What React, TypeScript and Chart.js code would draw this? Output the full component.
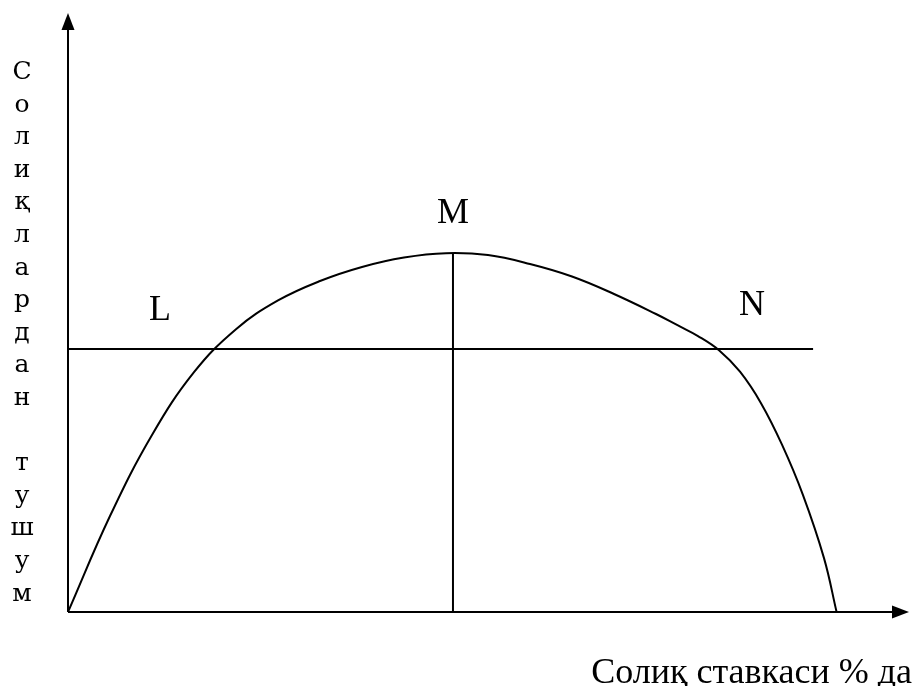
import React, { useEffect, useRef } from "react";
import { Chart, registerables } from "chart.js";

Chart.register(...registerables);

// Laffer curve: tax rate (x) vs tax revenue (y), in arbitrary units (0..100 of axis length)
const curveX = [0, 5, 10, 15, 20, 25, 30, 35, 40, 45, 50, 55, 60, 65, 70, 72.5, 75, 77.5, 80, 82.5, 85, 87.5, 90, 91.5];
const curveY = [0, 16.05, 29.6, 40.1, 47.3, 52.1, 55.35, 57.7, 59.28, 60.0, 59.68, 58.19, 56.1, 53.18, 49.83, 48.0, 46.15, 43.78, 40.18, 34.92, 27.98, 19.55, 9.01, 0];

const levelY = 44; // horizontal revenue level line (through L and N)
const levelXEnd = 88.7;
const peakX = 45.83; // point M
const peakY = 60;

const yAxisTitle = "Солиқлардан тушум";
const xAxisTitle = "Солиқ ставкаси % да";
const pointLabels = ["L", "M", "N"];

export default function App() {
  const ref = useRef<HTMLCanvasElement | null>(null);

  useEffect(() => {
    const canvas = ref.current;
    if (!canvas) return;

    const decor = {
      id: "decor",
      afterDatasetsDraw(chart: any) {
        const ctx = chart.ctx as CanvasRenderingContext2D;
        const xs = chart.scales.x;
        const ys = chart.scales.y;
        const ox = xs.getPixelForValue(0);
        const oy = ys.getPixelForValue(0);
        const area = chart.chartArea;
        ctx.save();
        ctx.strokeStyle = "#000";
        ctx.fillStyle = "#000";
        ctx.lineWidth = 2;
        // y axis
        ctx.beginPath();
        ctx.moveTo(ox, oy);
        ctx.lineTo(ox, area.top + 12);
        ctx.stroke();
        ctx.beginPath();
        ctx.moveTo(ox, area.top - 1);
        ctx.lineTo(ox - 6.5, area.top + 16);
        ctx.lineTo(ox + 6.5, area.top + 16);
        ctx.closePath();
        ctx.fill();
        // x axis
        ctx.beginPath();
        ctx.moveTo(ox, oy);
        ctx.lineTo(area.right - 12, oy);
        ctx.stroke();
        ctx.beginPath();
        ctx.moveTo(area.right + 1, oy);
        ctx.lineTo(area.right - 16, oy - 6.5);
        ctx.lineTo(area.right - 16, oy + 6.5);
        ctx.closePath();
        ctx.fill();

        // vertical y-axis title (letters stacked)
        ctx.font = '25px "DejaVu Serif", serif';
        ctx.textAlign = "center";
        ctx.textBaseline = "alphabetic";
        const letters = Array.from(yAxisTitle);
        letters.forEach((ch, i) => {
          if (ch === " ") return;
          ctx.fillText(ch, 22, 79 + i * 32.6);
        });

        // point labels
        ctx.font = '36px "Liberation Serif", "Times New Roman", serif';
        ctx.textAlign = "center";
        ctx.fillText(pointLabels[0], 160, 320);
        ctx.fillText(pointLabels[1], 453, 223);
        ctx.fillText(pointLabels[2], 752, 315);

        // x-axis title
        ctx.font = '36px "Liberation Serif", "Times New Roman", serif';
        ctx.textAlign = "right";
        ctx.fillText(xAxisTitle, 912, 683);
        ctx.restore();
      },
    };

    const chart = new Chart(canvas, {
      type: "scatter",
      data: {
        datasets: [
          {
            data: curveX.map((x, i) => ({ x, y: curveY[i] })),
            showLine: true,
            borderColor: "#000",
            borderWidth: 2,
            pointRadius: 0,
            tension: 0.4,
          },
          {
            data: [
              { x: 0, y: levelY },
              { x: levelXEnd, y: levelY },
            ],
            showLine: true,
            borderColor: "#000",
            borderWidth: 2,
            pointRadius: 0,
          },
          {
            data: [
              { x: peakX, y: 0 },
              { x: peakX, y: peakY },
            ],
            showLine: true,
            borderColor: "#000",
            borderWidth: 2,
            pointRadius: 0,
          },
        ],
      },
      options: {
        responsive: false,
        animation: false,
        layout: { padding: { left: 68, right: 10, top: 14, bottom: 74 } },
        plugins: {
          legend: { display: false },
          tooltip: { enabled: false },
        },
        scales: {
          x: { type: "linear", min: 0, max: 100, display: false },
          y: { type: "linear", min: 0, max: 100, display: false },
        },
      },
      plugins: [decor],
    } as any);

    return () => chart.destroy();
  }, []);

  return (
    <div style={{ position: "fixed", left: 0, top: 0, width: 918, height: 686, background: "#fff" }}>
      <canvas ref={ref} width={918} height={686} style={{ width: 918, height: 686 }} />
    </div>
  );
}
